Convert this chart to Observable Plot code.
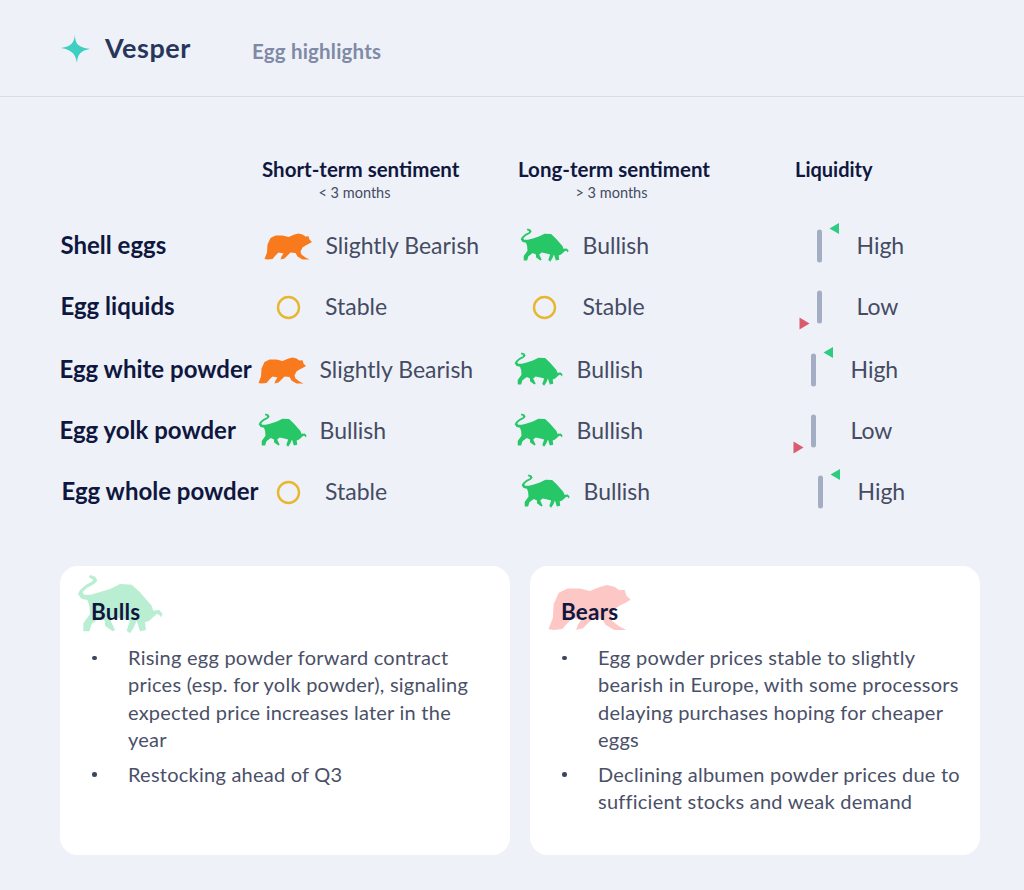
<!DOCTYPE html>
<html><head><meta charset="utf-8">
<script src="https://cdn.jsdelivr.net/npm/d3@7"></script>
<script src="https://cdn.jsdelivr.net/npm/@observablehq/plot@0.6"></script>
<style>
html,body{margin:0;padding:0;background:#eef2f8;}
body{width:1024px;height:890px;position:relative;overflow:hidden;font-family:Lato,sans-serif;}
#head{position:absolute;left:0;top:0;width:1024px;height:96px;border-bottom:1px solid #d8dde5;}
#logo{position:absolute;left:105px;top:32px;font-size:27px;line-height:32px;font-weight:700;color:#28365a;letter-spacing:.5px;}
#page{position:absolute;left:252px;top:38.5px;font-size:20.5px;line-height:24px;font-weight:700;color:#8089a5;letter-spacing:.2px;}
#star{position:absolute;left:54px;top:28px;}
#table{position:absolute;left:0;top:97px;}
.card{position:absolute;top:566px;width:450px;height:289px;background:#fff;border-radius:18px;}
.card .mark{position:absolute;}
.card h3{position:absolute;margin:0;top:33px;font-size:22.5px;line-height:26px;font-weight:700;color:#10173f;letter-spacing:.2px;}
.card ul{position:absolute;margin:0;padding:0;top:78px;list-style:none;}
.card li{position:relative;margin-bottom:7.6px;font-size:20px;line-height:27.3px;color:#4a5068;letter-spacing:.24px;}
.card li span{display:block;white-space:nowrap;}
.card li::before{content:"";position:absolute;left:-36px;top:11.5px;width:4.5px;height:4.5px;border-radius:50%;background:#3d4460;}
</style></head><body>
<div id="head"><svg id="star" width="44" height="40"><path d="M21,6 C21,15 23,19 36,21 C27,22.5 23.5,26 23,35 C21.5,26.5 18.5,22 7,20 C17,18.5 20.5,15 21,6Z" fill="#3fcfc0"/></svg>
<div id="logo"></div><div id="page"></div></div>
<div id="table"></div>
<div class="card" id="bulls" style="left:60px"></div>
<div class="card" id="bears" style="left:530px"></div>
<script>
const brand = "Vesper";
const pageTitle = "Egg highlights";
const rows = ["Shell eggs","Egg liquids","Egg white powder","Egg yolk powder","Egg whole powder"];
const shortTerm = ["Slightly Bearish","Stable","Slightly Bearish","Bullish","Stable"];
const longTerm = ["Bullish","Stable","Bullish","Bullish","Bullish"];
const liquidity = ["High","Low","High","Low","High"];
const columns = ["label","short","long","liq"];
const columnTitles = ["Short-term sentiment","Long-term sentiment","Liquidity"];
const columnNotes = ["< 3 months","> 3 months",""];
const bullsPoints = [
  ["Rising egg powder forward contract","prices (esp. for yolk powder), signaling","expected price increases later in the","year"],
  ["Restocking ahead of Q3"]
];
const bearsPoints = [
  ["Egg powder prices stable to slightly","bearish in Europe, with some processors","delaying purchases hoping for cheaper","eggs"],
  ["Declining albumen powder prices due to","sufficient stocks and weak demand"]
];

const font = "Lato, sans-serif";
const navy = "#10173f", body = "#454b63";
const rowShift = [0,0,-6,-6,1];
const rowLift = [-1,-1,1,1,1];

function outline(pts,cx,cy,R){
  return {draw(ctx,size){
    const k = Math.sqrt(size/Math.PI)/R;
    d3.line().x(p=>(p[0]-cx)*k).y(p=>(p[1]-cy)*k).curve(d3.curveLinearClosed).context(ctx)(pts);
  }};
}
const bearShape = [[0,25.5],[2.5,19],[3,11],[6,4.5],[11,2],[18,2],[24,3.5],[30,1],[34,0],[38,1],[41,3],[44,2.8],[45,6],[47.5,8.5],[44,10.5],[41,12],[38,14],[36,18],[37,21],[41,24],[45,26],[38,26],[33,23],[31,19.5],[26,19],[23,22],[20,25],[16,26],[17,23],[19,20],[14,19],[11,22],[8,25.5],[3,26]];
const bullShape = [[78,65],[52,72],[32,72],[28,64],[40,52],[62,40],[72,30],[66,18],[50,13],[46,20],[58,26],[58,32],[38,42],[20,58],[14,70],[24,84],[42,88],[48,105],[50,130],[30,158],[30,182],[48,182],[55,160],[78,142],[95,150],[95,165],[118,182],[125,178],[112,150],[125,140],[150,145],[170,150],[160,180],[170,188],[182,170],[190,150],[200,182],[218,178],[215,155],[228,150],[250,130],[258,132],[262,140],[268,130],[258,118],[240,120],[235,105],[200,65],[175,42],[140,40],[110,55]];
const bear = outline(bearShape,24,13,24);
const bull = outline(bullShape,140,100,100);
const bar = {draw(c){c.moveTo(-2.5,-14);c.arc(0,-14,2.5,Math.PI,0);c.lineTo(2.5,14);c.arc(0,14,2.5,0,Math.PI);c.closePath();}};
const flagUp = {draw(c){c.moveTo(-4.5,0);c.lineTo(5,-5.5);c.lineTo(5,5.5);c.closePath();}};
const flagDown = {draw(c){c.moveTo(5,0);c.lineTo(-5,-6);c.lineTo(-5,6);c.closePath();}};

const sentimentMark = (value,row,col,dx,shift,lift) => {
  const d=[{row,col}], o={x:"col",y:"row",dx:dx+shift,dy:lift};
  if(value==="Bullish") return Plot.dot(d,{...o,dy:lift-1.5,symbol:bull,r:18.9,fill:"#27c768"});
  if(value==="Stable") return Plot.dot(d,{...o,r:10.5,fill:"none",stroke:"#e8b62f",strokeWidth:2.4});
  return Plot.dot(d,{...o,symbol:bear,r:24,fill:"#f97a1c"});
};
const textMark = (t,row,col,dx,extra) => Plot.text([{row,col,t}],{x:"col",y:"row",text:"t",dx,textAnchor:"start",fontFamily:font,...extra});
const rowText = {fontSize:23,fill:body,letterSpacing:"0.2px"};

const marks = [];
columnTitles.forEach((t,i)=>{
  const dx = [-51.5,-48.5,-24.5][i], ndx=[56.5,57.5,0][i];
  marks.push(textMark(t,"header",columns[i+1],dx,{fontSize:i<2?20.5:20,fontWeight:700,fill:navy,dy:-16,letterSpacing:i<2?"0.42px":"0.25px"}));
  if(columnNotes[i]) marks.push(textMark(columnNotes[i],"header",columns[i+1],dx+ndx,{fontSize:14.5,fill:body,dy:6.5}));
});
rows.forEach((row,i)=>{
  const s=rowShift[i], l=rowLift[i];
  marks.push(textMark(row,row,"label",[0,0,-1,-1,1][i],{fontSize:24,fontWeight:700,fill:navy,letterSpacing:"0.4px",dy:l}));
  marks.push(sentimentMark(shortTerm[i],row,"short",-25,shortTerm[i]==="Stable"?0:s,l));
  marks.push(textMark(shortTerm[i],row,"short",(shortTerm[i]==="Stable"?11.5:12)+(shortTerm[i]==="Stable"?0:s),{...rowText,dy:l}));
  marks.push(sentimentMark(longTerm[i],row,"long",-22,s,l));
  marks.push(textMark(longTerm[i],row,"long",16+s,{...rowText,dy:l}));
  marks.push(Plot.dot([{row,col:"liq"}],{x:"col",y:"row",dx:s,dy:l-0.5,symbol:bar,r:4,fill:"#a3adc3"}));
  const hi = liquidity[i]==="High";
  marks.push(Plot.dot([{row,col:"liq"}],{x:"col",y:"row",dx:s+(hi?14.5:-15),dy:l+(hi?-18:16),symbol:hi?flagUp:flagDown,r:4,fill:hi?"#2fcb80":"#d95c6c"}));
  marks.push(textMark(liquidity[i],row,"liq",37+s,{...rowText,dy:l}));
});
document.getElementById("table").append(Plot.plot({
  width:1024,height:453,margin:0,style:{background:"transparent",overflow:"visible"},
  x:{type:"point",domain:columns,range:[60,819],padding:0,axis:null},
  y:{type:"point",domain:["header",...rows],range:[87.5,395],padding:0,axis:null},
  marks
}));

document.getElementById("logo").textContent=brand;
document.getElementById("page").textContent=pageTitle;

function card(id,title,titleX,points,textX,symbol,r,color,mx,my,mw,mh){
  const el=document.getElementById(id);
  const p=Plot.plot({width:mw,height:mh,margin:0,axis:null,style:{background:"transparent",overflow:"visible"},
    marks:[Plot.dot([0],{frameAnchor:"middle",symbol,r,fill:color})]});
  p.setAttribute("class","mark");p.style.left=mx+"px";p.style.top=my+"px";
  el.append(p);
  const h=document.createElement("h3");h.textContent=title;h.style.left=titleX+"px";el.append(h);
  const ul=document.createElement("ul");ul.style.left=textX+"px";
  points.forEach(lines=>{const li=document.createElement("li");
    lines.forEach(l=>{const s=document.createElement("span");s.textContent=l;li.append(s);});ul.append(li);});
  el.append(ul);
}
card("bulls","Bulls",31,bullsPoints,68,bull,33.3,"#b9eed2",18,9,83,57);
card("bears","Bears",31,bearsPoints,68,bear,41.5,"#fcc7c5",18,17,83,48);
</script></body></html>
